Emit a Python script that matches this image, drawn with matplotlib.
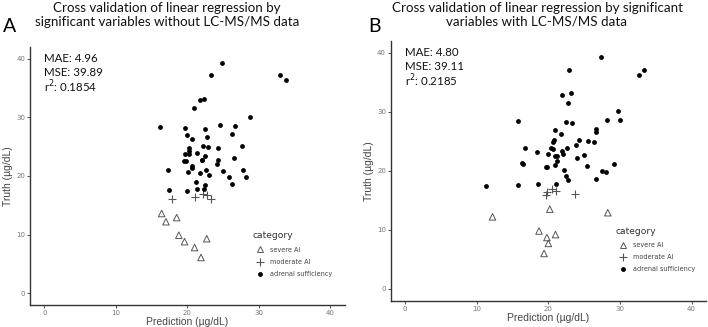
import matplotlib
matplotlib.use("Agg")
import matplotlib.pyplot as plt
from matplotlib.lines import Line2D

# Panel A: without LC-MS/MS data
a_suff_x = [24.8, 23.3, 33.0, 33.8, 22.3, 21.7, 20.9, 28.8, 16.2, 19.7, 22.5, 24.5, 26.6,
            20.0, 26.3, 20.7, 22.7, 22.2, 22.9, 24.3, 27.6, 20.2, 20.2, 19.7, 20.2, 21.3,
            22.4, 22.1, 22.0, 19.5, 19.8, 26.5, 24.3, 24.1, 20.7, 20.6, 17.3, 27.8, 22.6,
            20.1, 21.7, 23.0, 25.0, 25.8, 28.2, 21.2, 26.2, 22.4, 17.4, 19.9, 21.3, 22.3]
a_suff_y = [39.2, 37.2, 37.2, 36.3, 33.2, 32.9, 31.6, 30.1, 28.4, 28.2, 28.0, 28.7, 28.6,
            27.0, 27.1, 26.3, 26.6, 25.2, 24.9, 24.8, 25.2, 24.7, 24.3, 23.7, 23.7, 24.0,
            23.4, 22.8, 22.7, 22.5, 22.5, 23.1, 22.7, 22.0, 21.7, 21.3, 21.1, 21.1, 21.0,
            20.7, 20.5, 20.2, 20.9, 19.9, 19.8, 19.0, 18.6, 18.4, 17.6, 17.4, 17.8, 17.8]
a_mod_x = [17.8, 21.0, 22.2, 22.8, 23.3]
a_mod_y = [16.0, 16.5, 17.0, 16.8, 16.1]
a_sev_x = [16.4, 17.0, 18.5, 18.8, 19.6, 22.7, 21.0, 21.9]
a_sev_y = [13.6, 12.2, 12.9, 9.9, 8.8, 9.3, 7.8, 6.1]

# Panel B: with LC-MS/MS data
b_suff_x = [27.4, 22.9, 32.7, 33.4, 21.9, 23.2, 22.7, 29.7, 28.2, 30.0, 15.8, 22.5, 23.3,
            20.9, 26.6, 26.7, 21.8, 20.8, 20.7, 24.3, 25.6, 26.4, 23.9, 16.7, 20.4, 20.7,
            22.6, 21.9, 22.0, 18.4, 20.0, 20.9, 21.2, 25.0, 24.0, 21.2, 16.3, 16.4, 29.1,
            20.9, 25.4, 19.8, 19.7, 22.2, 27.5, 28.1, 22.4, 22.8, 26.6, 11.3, 15.8, 18.6, 21.1]
b_suff_y = [39.2, 37.1, 36.3, 37.1, 32.8, 33.2, 31.5, 30.1, 28.6, 28.6, 28.5, 28.2, 28.1,
            26.9, 27.1, 26.6, 26.3, 25.2, 24.9, 25.2, 25.0, 24.8, 24.3, 23.8, 23.9, 23.7,
            23.8, 23.4, 22.9, 23.1, 22.9, 22.5, 22.5, 22.7, 22.1, 21.7, 21.3, 21.1, 21.2,
            21.0, 20.8, 20.7, 20.7, 20.2, 19.9, 19.8, 19.1, 18.5, 18.6, 17.4, 17.6, 17.7, 17.8]
b_mod_x = [19.7, 19.8, 20.5, 21.0, 23.7]
b_mod_y = [15.9, 16.4, 16.9, 16.6, 16.1]
b_sev_x = [12.2, 20.2, 28.3, 18.7, 21.0, 19.8, 20.0, 19.4]
b_sev_y = [12.2, 13.5, 12.9, 9.8, 9.2, 8.7, 7.7, 6.0]

titles = ["Cross validation of linear regression by\nsignificant variables without LC-MS/MS data",
          "Cross validation of linear regression by significant\nvariables with LC-MS/MS data"]
stats = [["MAE: 4.96", "MSE: 39.89", "r$^2$: 0.1854"],
         ["MAE: 4.80", "MSE: 39.11", "r$^2$: 0.2185"]]
ticks = [0, 10, 20, 30, 40]
legend_labels = ["severe AI", "moderate AI", "adrenal sufficiency"]

W, H = 708, 327
fig = plt.figure(figsize=(W / 100, H / 100), dpi=100)
axA = fig.add_axes([0.0424, 0.0673, 0.4446, 0.789])
axB = fig.add_axes([0.552, 0.0804, 0.445, 0.7946])

panels = [(axA, a_sev_x, a_sev_y, a_mod_x, a_mod_y, a_suff_x, a_suff_y),
          (axB, b_sev_x, b_sev_y, b_mod_x, b_mod_y, b_suff_x, b_suff_y)]
title_centers = [167, 537]
legend_x = [0.70, 0.706]

gray = "#555555"
for i, (ax, sx, sy, mx, my, dx, dy) in enumerate(panels):
    ax.scatter(sx, sy, marker="^", s=22, facecolors="none", edgecolors=gray, linewidths=0.7)
    ax.scatter(mx, my, marker="+", s=36, color=gray, linewidths=0.8)
    ax.scatter(dx, dy, marker="o", s=12, color="black", linewidths=0)
    ax.set_xlim(-2, 42)
    ax.set_ylim(-2, 42)
    ax.set_xticks(ticks)
    ax.set_yticks(ticks)
    for s in ["top", "right"]:
        ax.spines[s].set_visible(False)
    for s in ["left", "bottom"]:
        ax.spines[s].set_color("#333333")
        ax.spines[s].set_linewidth(1.0)
    ax.tick_params(length=2, width=0.6, color="#333333", labelsize=5, labelcolor="#777777", pad=1.5)
    ax.set_xlabel("Prediction (µg/dL)", fontsize=7.5, color="#444444", family="Liberation Sans", labelpad=1)
    ax.set_ylabel("Truth (µg/dL)", fontsize=7.5, color="#444444", family="Liberation Sans", labelpad=2)
    for k, line in enumerate(stats[i]):
        ax.text(0, 40 - 2.38 * k, line, ha="left", va="center", fontsize=8.3, family="Lato", color="#111111")

    # title centred a bit left of the axes, like the original figure
    fig.text(title_centers[i] / W, 1 - 15 / H, titles[i], ha="center", va="center",
             fontsize=9.6, family="Lato", color="#111111", linespacing=1.2)

    handles = [Line2D([], [], marker="^", ls="none", mfc="none", mec=gray, ms=5, mew=0.7),
               Line2D([], [], marker="+", ls="none", color=gray, ms=6, mew=0.8),
               Line2D([], [], marker="o", ls="none", color="black", ms=3.5, mew=0)]
    leg = ax.legend(handles, legend_labels, title="category", frameon=False,
                    loc="upper left", bbox_to_anchor=(legend_x[i], 0.295), fontsize=4.7,
                    title_fontsize=6.6, handlelength=2.1, handletextpad=0.5,
                    labelspacing=0.95, borderaxespad=0)
    leg._legend_box.align = "left"
    for t in leg.get_texts():
        t.set_color("#444444")
    leg.get_title().set_color("#333333")

fig.text(0.004, 1 - 25 / H, "A", fontsize=14, family="Lato", va="center_baseline", ha="left")
fig.text(0.520, 1 - 25 / H, "B", fontsize=14, family="Lato", va="center_baseline", ha="left")

fig.savefig("out.png", dpi=100)
